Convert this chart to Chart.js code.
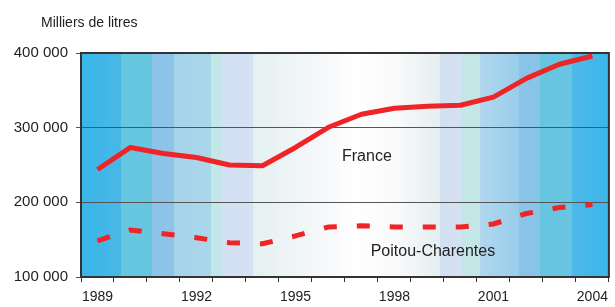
<!DOCTYPE html>
<html>
<head>
<meta charset="utf-8">
<script src="https://cdn.jsdelivr.net/npm/chart.js@4/dist/chart.umd.min.js"></script>
<style>
  html, body { margin: 0; padding: 0; background: #fff; }
  #wrap { width: 615px; height: 307px; }
</style>
</head>
<body>
<div id="wrap"><canvas id="myChart" width="615" height="307"></canvas></div>
<script>
// data (milliers de litres)
const years = ['1989', '1990', '1991', '1992', '1993', '1994', '1995', '1996',
  '1997', '1998', '1999', '2000', '2001', '2002', '2003', '2004'];
const france = [244000, 273500, 265500, 260000, 250000, 249000, 273500, 300500,
  318000, 326000, 328700, 330000, 341000, 366000, 385000, 396000];
const poitou = [148500, 163000, 158000, 152500, 146000, 144500, 155000, 167000,
  168600, 167000, 167000, 167000, 171000, 185000, 193000, 197000];
const yTicks = [100000, 200000, 300000, 400000];
const unitLabel = 'Milliers de litres';
const seriesNames = ['France', 'Poitou-Charentes'];

const FONT = '"Liberation Sans", Arial, sans-serif';
const RED = '#EE2427';

// background bands, blue at the edges and white in the middle
const bandStops = [
  [0.000, '#38B6E9'], [0.075, '#48B8E6'], [0.0751, '#66C7E0'],
  [0.135, '#66C6E0'], [0.1351, '#8CC3E8'], [0.176, '#8CC3E8'],
  [0.1761, '#A5D4EA'], [0.246, '#AAD6EA'], [0.2461, '#C3E6E6'],
  [0.266, '#C3E6E6'], [0.2661, '#D2E1F3'], [0.325, '#D4E1F3'],
  [0.3251, '#E4F0F0'], [0.47, '#F8F9FB'], [0.52, '#FFFFFF'],
  [0.60, '#F8F9FA'], [0.68, '#E5EEF0'], [0.6801, '#D3E0F2'],
  [0.72, '#D5E1F2'], [0.7201, '#C3E6E6'], [0.755, '#C5E6E8'],
  [0.7551, '#B2D7EE'], [0.83, '#98CDEA'], [0.8301, '#8AC4E8'],
  [0.87, '#88C5E8'], [0.8701, '#66C6E0'], [0.93, '#68C5E2'],
  [0.9301, '#4EB9E8'], [1.000, '#3AB6E8']
];

const decor = {
  id: 'decor',
  beforeDraw(chart) {
    const { ctx, chartArea: a } = chart;
    const g = ctx.createLinearGradient(a.left, 0, a.right, 0);
    bandStops.forEach(([p, c]) => g.addColorStop(p, c));
    ctx.save();
    ctx.fillStyle = g;
    ctx.fillRect(a.left, a.top, a.right - a.left, a.bottom - a.top);
    ctx.restore();
  },
  afterDraw(chart) {
    const { ctx, chartArea: a, scales } = chart;
    ctx.save();
    ctx.strokeStyle = '#333';
    ctx.lineWidth = 2;
    ctx.strokeRect(a.left, a.top, a.right - a.left, a.bottom - a.top);

    ctx.fillStyle = '#222';
    ctx.textBaseline = 'alphabetic';
    ctx.font = '14px ' + FONT;
    ctx.fillText(unitLabel, 41, 27);

    ctx.font = '16px ' + FONT;
    ctx.fillText(seriesNames[0], scales.x.getPixelForValue(7.41), scales.y.getPixelForValue(254700));
    ctx.fillText(seriesNames[1], scales.x.getPixelForValue(8.28), scales.y.getPixelForValue(128300));
    ctx.restore();
  }
};

new Chart(document.getElementById('myChart').getContext('2d'), {
  type: 'line',
  data: {
    labels: years,
    datasets: [
      {
        label: seriesNames[0],
        data: france,
        borderColor: RED,
        borderWidth: 5,
        pointRadius: 0,
        tension: 0,
        borderJoinStyle: 'round'
      },
      {
        label: seriesNames[1],
        data: poitou,
        borderColor: RED,
        borderWidth: 5,
        borderDash: [13, 20],
        borderCapStyle: 'butt',
        pointRadius: 0,
        tension: 0
      }
    ]
  },
  options: {
    responsive: false,
    animation: false,
    layout: { padding: { top: 53, right: 1, left: 0, bottom: 0 } },
    plugins: { legend: { display: false }, tooltip: { enabled: false } },
    scales: {
      x: {
        type: 'category',
        offset: true,
        grid: { offset: true, drawOnChartArea: false, tickLength: 5, color: '#333', lineWidth: 1 },
        border: { display: false },
        ticks: {
          autoSkip: false,
          maxRotation: 0,
          padding: 7,
          color: '#222',
          font: { family: FONT, size: 14 },
          callback: (v, i) => (Number(years[i]) - 1989) % 3 === 0 ? years[i] : ''
        },
        afterFit: s => { s.height = 30; }
      },
      y: {
        min: yTicks[0],
        max: yTicks[yTicks.length - 1],
        afterBuildTicks: s => { s.ticks = yTicks.map(v => ({ value: v })); },
        grid: { color: '#555', lineWidth: 1, tickLength: 5 },
        border: { display: false },
        ticks: {
          padding: 8,
          color: '#222',
          font: { family: FONT, size: 15 },
          callback: v => String(v).replace(/\B(?=(\d{3})+(?!\d))/g, ' ')
        },
        afterFit: s => { s.width = 81; }
      }
    }
  },
  plugins: [decor]
});
</script>
</body>
</html>
